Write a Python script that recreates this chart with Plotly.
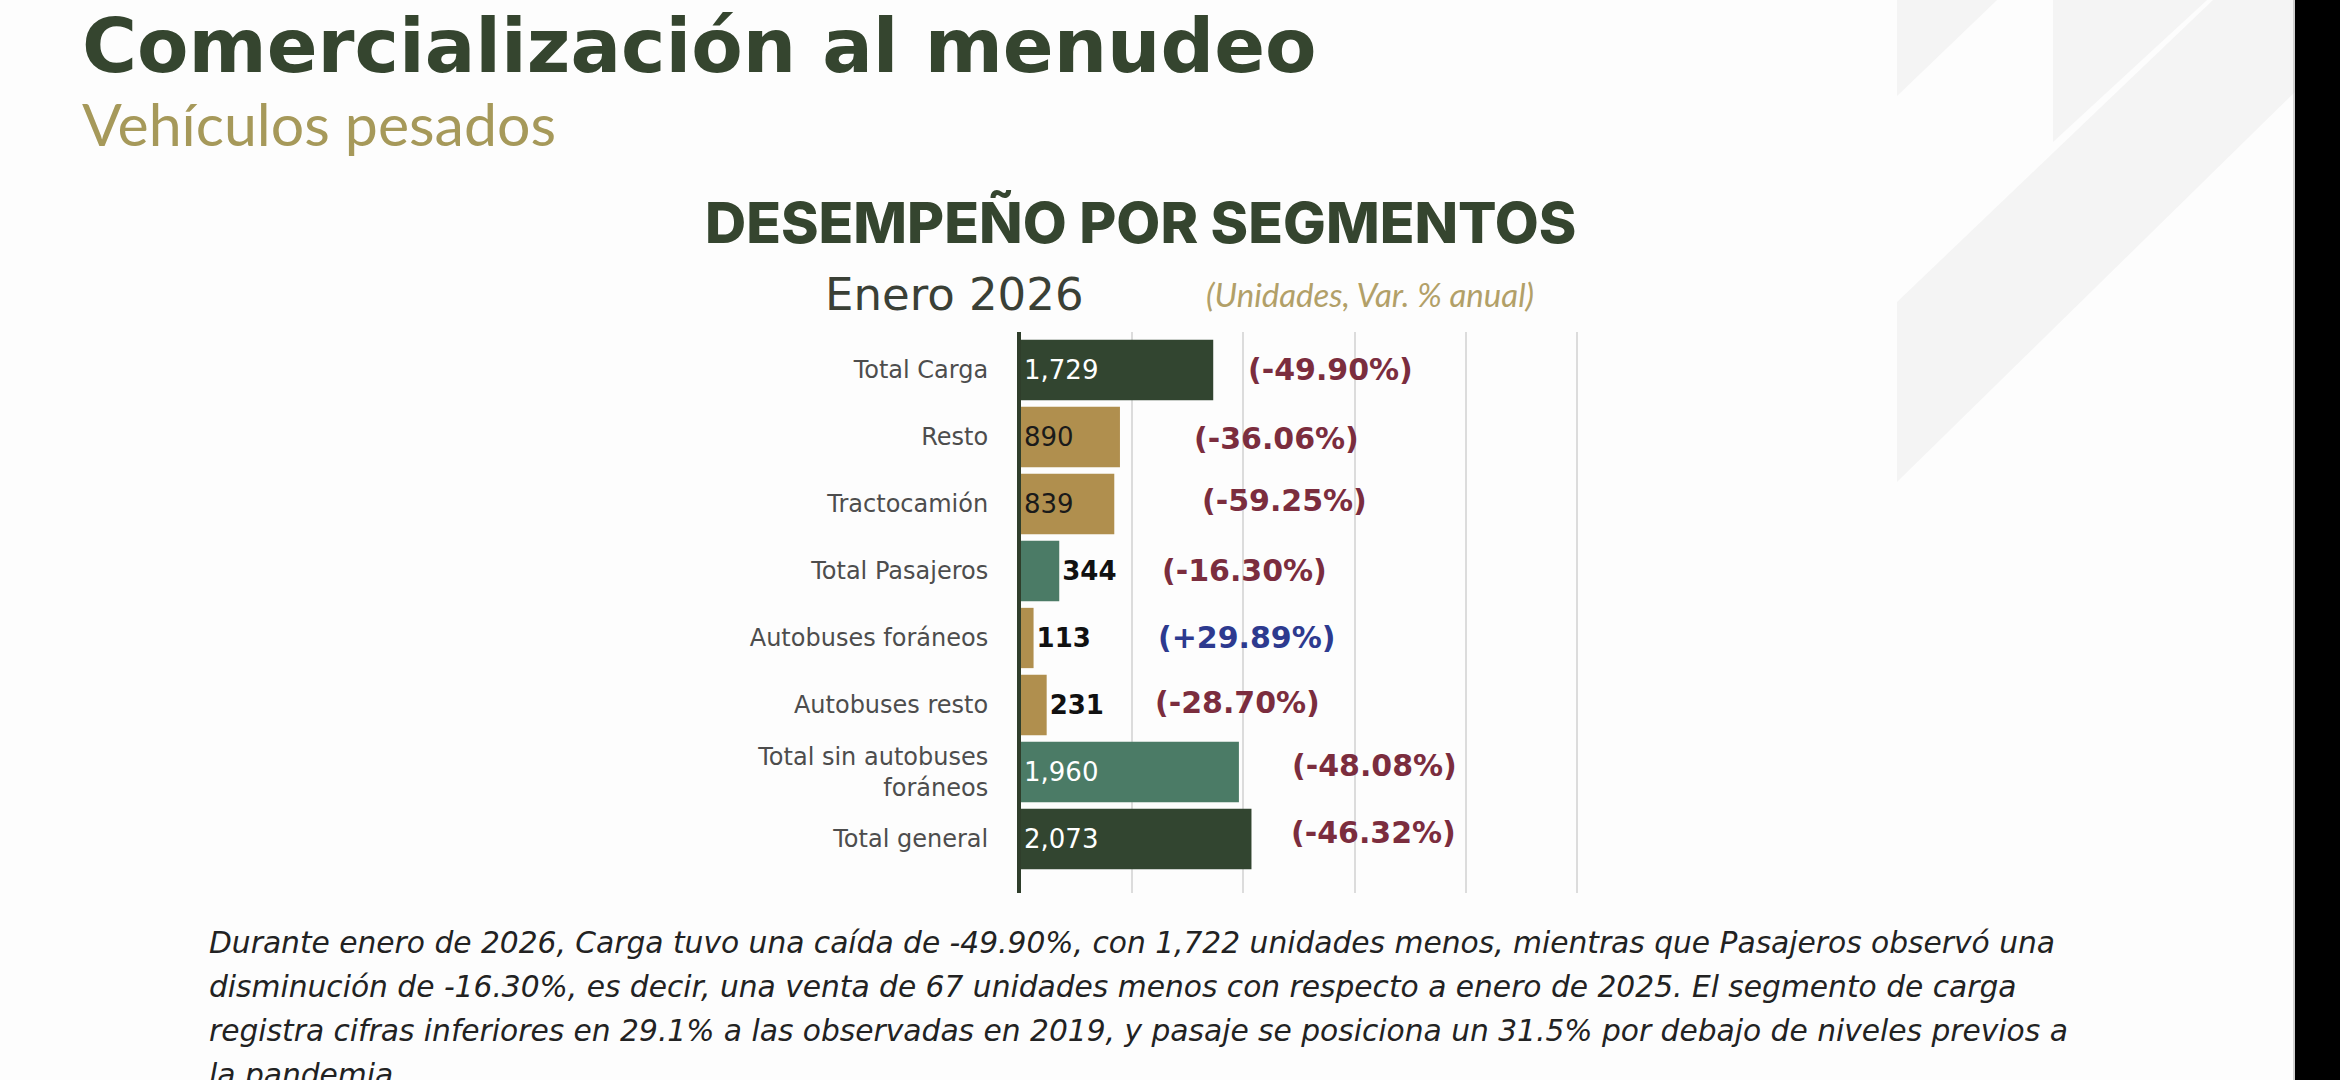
import plotly.graph_objects as go

# --- data ---
categorias = [
    "Total Carga",
    "Resto",
    "Tractocamión",
    "Total Pasajeros",
    "Autobuses foráneos",
    "Autobuses resto",
    "Total sin autobuses<br>foráneos",
    "Total general",
]
unidades = [1729, 890, 839, 344, 113, 231, 1960, 2073]
var_anual = [-49.90, -36.06, -59.25, -16.30, 29.89, -28.70, -48.08, -46.32]
x_ticks = [0, 1000, 2000, 3000, 4000, 5000]

nota_lineas = [
    "Durante enero de 2026, Carga tuvo una caída de -49.90%, con 1,722 unidades menos, mientras que Pasajeros observó una",
    "disminución de -16.30%, es decir, una venta de 67 unidades menos con respecto a enero de 2025. El segmento de carga",
    "registra cifras inferiores en 29.1% a las observadas en 2019, y pasaje se posiciona un 31.5% por debajo de niveles previos a",
    "la pandemia.",
]

# --- styles ---
VERDE = "#324530"
ORO = "#b08f4e"
TEAL = "#4b7b66"
GUINDA = "#7b2d3e"
AZUL = "#2d3a8f"
FUENTE = "DejaVu Sans"

bar_colors = [VERDE, ORO, ORO, TEAL, ORO, ORO, TEAL, VERDE]
text_pos = ["inside", "inside", "inside", "outside", "outside", "outside", "inside", "inside"]
text_colors = ["white", "#1a1a1a", "#1a1a1a", "#111111", "#111111", "#111111", "white", "white"]
pct_gap_px = [33, 72, 86, 101, 122, 106, 51, 38]
pct_yshift = [0, -2, 3, 0, 0, 2, 7, 7]

W, H = 2340, 1080
L, R, T, B = 1021, 762, 332, 187
pw = W - L - R
ph = H - T - B


def px(x):
    return (x - L) / pw


def py(y):
    return (H - B - y) / ph


fig = go.Figure()

fig.add_trace(go.Bar(
    x=unidades,
    y=categorias,
    orientation="h",
    marker=dict(color=bar_colors, line=dict(width=0)),
    text=[f"{v:,}" for v in unidades],
    textposition=text_pos,
    insidetextanchor="start",
    textfont=dict(family=FUENTE, size=26, color=text_colors),
    outsidetextfont=dict(family=FUENTE, size=26, color="#111111", weight=700),
    cliponaxis=False,
    hoverinfo="skip",
))

# variation labels
for cat, v, p, gap, ys in zip(categorias, unidades, var_anual, pct_gap_px, pct_yshift):
    fig.add_annotation(
        x=v, y=cat, xref="x", yref="y",
        text=f"({p:+.2f}%)",
        showarrow=False, xanchor="left", yanchor="middle",
        xshift=gap, yshift=ys,
        font=dict(family=FUENTE, size=30, color=AZUL if p > 0 else GUINDA, weight=700),
    )

# headings
fig.add_annotation(x=px(80), y=py(46), xref="paper", yref="paper",
                   text="Comercialización al menudeo", showarrow=False,
                   xanchor="left", yanchor="middle",
                   font=dict(family="DejaVu Sans", size=75, color="#35452f", weight=700))
fig.add_annotation(x=px(80), y=py(124), xref="paper", yref="paper",
                   text="Vehículos pesados", showarrow=False,
                   xanchor="left", yanchor="middle",
                   font=dict(family="Lato", size=59, color="#a6995a"))
fig.add_annotation(x=px(1140), y=py(222), xref="paper", yref="paper",
                   text="DESEMPEÑO POR SEGMENTOS", showarrow=False,
                   xanchor="center", yanchor="middle",
                   font=dict(family="Inter", size=57, color="#35452f", weight=800))
fig.add_annotation(x=px(823), y=py(294), xref="paper", yref="paper",
                   text="Enero 2026", showarrow=False,
                   xanchor="left", yanchor="middle",
                   font=dict(family=FUENTE, size=45, color="#3a4036"))
fig.add_annotation(x=px(1204), y=py(294), xref="paper", yref="paper",
                   text="(Unidades, Var. % anual)", showarrow=False,
                   xanchor="left", yanchor="middle",
                   font=dict(family="Lato", size=33, color="#b2a068", style="italic"))

# paragraph at the bottom
for i, linea in enumerate(nota_lineas):
    fig.add_annotation(x=px(207), y=py(942 + 44 * i), xref="paper", yref="paper",
                       text=linea, showarrow=False,
                       xanchor="left", yanchor="middle",
                       font=dict(family=FUENTE, size=29.7, color="#222222", style="italic"))

# faint background logo on the right and dark strip
bg_shapes = [
    [(1897, 0), (1997, 0), (1897, 96)],
    [(2053, 0), (2207, 0), (2053, 142)],
    [(1897, 302), (2213, 0), (2295, 0), (2295, 92), (1897, 482)],
]
for pts in bg_shapes:
    path = "M " + " L ".join(f"{px(a):.5f},{py(b):.5f}" for a, b in pts) + " Z"
    fig.add_shape(type="path", path=path, xref="paper", yref="paper",
                  fillcolor="#f4f4f4", line=dict(width=0), layer="below")
fig.add_shape(type="rect", xref="paper", yref="paper",
              x0=px(2295), x1=px(2345), y0=py(-5), y1=py(1085),
              fillcolor="black", line=dict(width=0))
fig.add_shape(type="line", xref="paper", yref="paper",
              x0=px(2294), x1=px(2294), y0=py(0), y1=py(1080),
              line=dict(color="#a8a8a8", width=1))

fig.update_xaxes(
    range=[0, 5010],
    tickvals=x_ticks,
    showticklabels=False,
    showgrid=True, gridcolor="#dcdcdc", gridwidth=2,
    zeroline=False, showline=False,
    fixedrange=True,
)
fig.update_yaxes(
    categoryorder="array", categoryarray=categorias,
    range=[7.806, -0.567],
    showline=True, linecolor="#2f3e2b", linewidth=4,
    showgrid=False, zeroline=False,
    ticks="", ticklabelstandoff=24,
    tickfont=dict(family=FUENTE, size=24, color="#4d4d4d"),
    fixedrange=True,
)

fig.update_layout(
    width=W, height=H, autosize=False,
    margin=dict(l=L, r=R, t=T, b=B, pad=0),
    paper_bgcolor="#fdfdfd",
    plot_bgcolor="rgba(0,0,0,0)",
    bargap=0.1,
    showlegend=False,
)

fig.write_html(
    "out.html",
    config={"displayModeBar": False},
    post_script="document.body.style.margin='0';document.body.style.overflow='hidden';",
)
